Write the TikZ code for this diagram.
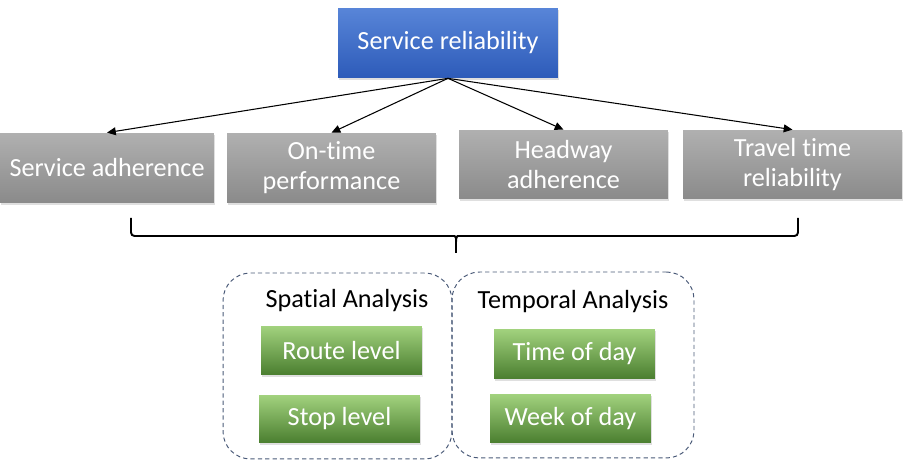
\documentclass[tikz,border=0pt]{standalone}
\usepackage{fontspec}
\setmainfont{Carlito}[Ligatures=NoCommon]
\usetikzlibrary{arrows.meta,shadows}
\definecolor{bluetop}{HTML}{5885D8}
\definecolor{bluebot}{HTML}{2D5BB9}
\definecolor{greytop}{HTML}{B0B0B0}
\definecolor{greybot}{HTML}{8A8A8A}
\definecolor{greentop}{HTML}{A2D27E}
\definecolor{greenmid}{HTML}{7BB955}
\definecolor{greenbot}{HTML}{4A7E2F}
\definecolor{dashline}{HTML}{4A5A78}
\begin{document}
\begin{tikzpicture}[x=0.02cm,y=-0.02cm,
    box/.style={rectangle,inner sep=0pt,align=center,text=white,
        font=\fontsize{14.9}{17}\selectfont,
        drop shadow={opacity=0.25,shadow xshift=0.8pt,shadow yshift=-1pt}},
    topbox/.style={box,top color=bluetop,bottom color=bluebot,minimum width=4.4cm,minimum height=1.4cm},
    greybox/.style={box,top color=greytop,bottom color=greybot,minimum height=1.4cm},
    greenbox/.style={box,top color=greentop,middle color=greenmid,bottom color=greenbot,minimum width=3.22cm,minimum height=0.98cm},
    group/.style={draw=dashline,line width=0.55pt,dash pattern=on 2.4pt off 1.8pt,rounded corners=0.55cm,minimum height=3.72cm},
    title/.style={inner sep=0pt,font=\fontsize{14.9}{17}\selectfont},
    link/.style={line width=0.6pt,-{Triangle[length=5pt,width=4.5pt]}}]
        \useasboundingbox (0,0) rectangle (913,472);
        %% Top
        \node[topbox] (rel) at (448,43) {Service reliability};
        %% Measures
        \node[greybox,minimum width=4.28cm] (sa) at (107,168) {Service adherence};
        \node[greybox,minimum width=4.18cm] (otp) at (331.5,168) {On-time\\performance};
        \node[greybox,minimum width=4.18cm,minimum height=1.38cm] (ha) at (563.5,164.5) {Headway\\adherence};
        \node[greybox,minimum width=4.38cm,minimum height=1.38cm] (ttr) at (792.5,164.5) {Travel time\\reliability};
        \draw[link] (rel.south) -- (sa.north);
        \draw[link] (rel.south) -- (otp.north);
        \draw[link] (rel.south) -- (ha.north);
        \draw[link] (rel.south) -- (ttr.north);
        %% Brace
        \coordinate (bl) at (131,218);
        \coordinate (br) at (798,218);
        \coordinate (tip) at (456,253);
        \draw[line width=1.1pt,rounded corners=2pt] (bl) -- (131,236) -- (451,236)
            .. controls (455,236) and (456,238) .. (456,242) -- (tip);
        \draw[line width=1.1pt,rounded corners=2pt] (br) -- (798,236) -- (461,236)
            .. controls (457,236) and (456,238) .. (456,242);
        %% Analysis groups
        \node[group,minimum width=4.58cm] (spatial) at (337.5,366) {};
        \node[group,minimum width=4.84cm] (temporal) at (573,365) {};
        \node[title] (sptitle) at (347,301) {Spatial Analysis};
        \node[title] (tmtitle) at (573,302) {Temporal Analysis};
        \node[greenbox] (route) at (341.5,350.5) {Route level};
        \node[greenbox,minimum height=0.96cm] (stop) at (339.5,419) {Stop level};
        \node[greenbox,minimum height=1cm] (tod) at (574.5,354) {Time of day};
        \node[greenbox] (wod) at (570.5,418.5) {Week of day};
\end{tikzpicture}
\end{document}
